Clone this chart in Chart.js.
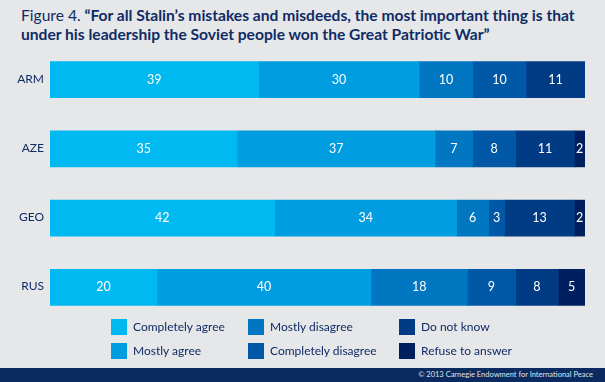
<!DOCTYPE html>
<html>
<head>
<meta charset="utf-8">
<script src="https://cdn.jsdelivr.net/npm/chart.js@4"></script>
<style>
  body { margin: 0; width: 605px; height: 382px; background: #e6e7e8; position: relative; overflow: hidden;
    font-family: Lato, sans-serif; color: #0f2c66; }
  .title { position: absolute; left: 21px; top: 6px; font-size: 15.6px; line-height: 19px; font-weight: bold; white-space: nowrap; }
  .title span { font-weight: normal; }
  .legend { position: absolute; left: 111px; top: 319px; font-size: 12px; }
  .legend .item { position: absolute; white-space: nowrap; height: 16px; line-height: 16px; }
  .legend .sw { display: inline-block; width: 16px; height: 16px; vertical-align: top; margin-right: 6px; }
  .footer { position: absolute; left: 0; top: 368px; width: 605px; height: 14px; background: #0b2a5f;
    color: #dfe4ee; font-size: 7.5px; line-height: 14px; text-align: right; box-sizing: border-box; padding-right: 12px; }
  #chart1 { position: absolute; left: 0; top: 45px; }
</style>
</head>
<body>
<div class="title"><span>Figure 4.</span> “For all Stalin’s mistakes and misdeeds, the most important thing is that<br>under his leadership the Soviet people won the Great Patriotic War”</div>
<canvas id="chart1" width="605" height="277"></canvas>
<div class="legend" id="legend"></div>
<div class="footer">© 2013 Carnegie Endowment for International Peace</div>
<script>
// Data
const countries = ['ARM', 'AZE', 'GEO', 'RUS'];
const answers = ['Completely agree', 'Mostly agree', 'Mostly disagree', 'Completely disagree', 'Do not know', 'Refuse to answer'];
const completelyAgree = [39, 35, 42, 20];
const mostlyAgree = [30, 37, 34, 40];
const mostlyDisagree = [10, 7, 6, 18];
const completelyDisagree = [10, 8, 3, 9];
const doNotKnow = [11, 11, 13, 8];
const refuseToAnswer = [0, 2, 2, 5];
const colors = ['#00b9f0', '#009ee0', '#0077c0', '#0058a6', '#003b84', '#001f5e'];

const seriesValues = [completelyAgree, mostlyAgree, mostlyDisagree, completelyDisagree, doNotKnow, refuseToAnswer];
const fontName = 'Lato, sans-serif';

// Legend (column-major, 3 columns x 2 rows)
const legendEl = document.getElementById('legend');
const colX = [0, 137, 288];
answers.forEach((name, i) => {
  const item = document.createElement('div');
  item.className = 'item';
  item.style.left = colX[Math.floor(i / 2)] + 'px';
  item.style.top = (i % 2) * 24 + 'px';
  item.innerHTML = '<span class="sw" style="background:' + colors[i] + '"></span>' + name;
  legendEl.appendChild(item);
});

// Numbers inside the bars + country names left of them
const segmentLabels = {
  id: 'segmentLabels',
  afterDatasetsDraw(chart) {
    const ctx = chart.ctx;
    const yScale = chart.scales.y;
    ctx.save();
    ctx.textBaseline = 'middle';
    ctx.fillStyle = '#ffffff';
    ctx.font = '12.5px ' + fontName;
    ctx.textAlign = 'center';
    chart.data.datasets.forEach((ds, di) => {
      chart.getDatasetMeta(di).data.forEach((bar, i) => {
        const v = ds.data[i];
        if (!v) return;
        ctx.fillText(v, (bar.x + bar.base) / 2, bar.y);
      });
    });
    ctx.fillStyle = '#0f2c66';
    ctx.font = '12px ' + fontName;
    ctx.textAlign = 'right';
    countries.forEach((c, i) => {
      ctx.fillText(c, chart.chartArea.left - 6, yScale.getPixelForValue(i) - 1);
    });
    ctx.restore();
  }
};

var ctx = document.getElementById('chart1').getContext('2d');
var chart = new Chart(ctx, {
  type: 'bar',
  data: {
    labels: countries,
    datasets: answers.map((name, i) => ({
      label: name,
      data: seriesValues[i],
      backgroundColor: colors[i],
      borderWidth: 0,
      barThickness: 36,
    })),
  },
  options: {
    indexAxis: 'y',
    responsive: false,
    animation: false,
    layout: { padding: { left: 50, right: 20, top: 0, bottom: 0 } },
    plugins: {
      legend: { display: false },
      tooltip: { enabled: false },
    },
    scales: {
      x: { stacked: true, min: 0, max: 100, display: false },
      y: { stacked: true, display: false },
    },
  },
  plugins: [segmentLabels],
});
</script>
</body>
</html>
